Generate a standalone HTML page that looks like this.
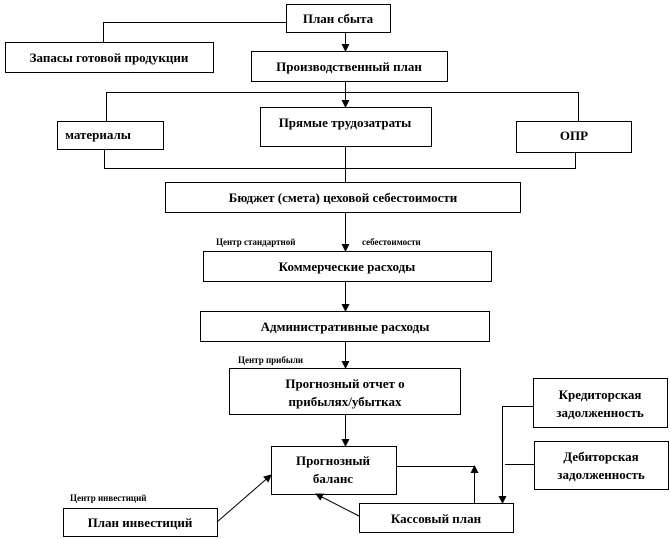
<!DOCTYPE html>
<html><head><meta charset="utf-8"><style>
html,body{margin:0;padding:0;background:#fff;}
svg{display:block;}
text{font-family:"Liberation Serif",serif;font-weight:bold;fill:#000;}
.t{font-size:13px;}
.s{font-size:9px;}
</style></head><body>
<svg width="670" height="539" viewBox="0 0 670 539" xmlns="http://www.w3.org/2000/svg">
<defs><marker id="a" markerWidth="8" markerHeight="8" refX="7" refY="4" orient="auto" markerUnits="userSpaceOnUse"><path d="M0,0 L8,4 L0,8 z" fill="#000"/></marker></defs>
<g fill="#fff" stroke="#000" stroke-width="1">
<rect x="286.5" y="4.5" width="104" height="28"/>
<rect x="5.5" y="42.5" width="208" height="30"/>
<rect x="251.5" y="51.5" width="196" height="30"/>
<rect x="57.5" y="121.5" width="106" height="28"/>
<rect x="260.5" y="107.5" width="171" height="39"/>
<rect x="516.5" y="121.5" width="115" height="31"/>
<rect x="165.5" y="182.5" width="355" height="30"/>
<rect x="203.5" y="251.5" width="288" height="30"/>
<rect x="200.5" y="311.5" width="289" height="30"/>
<rect x="229.5" y="368.5" width="231" height="46"/>
<rect x="271.5" y="446.5" width="125" height="48"/>
<rect x="533.5" y="378.5" width="134" height="49"/>
<rect x="534.5" y="441.5" width="134" height="48"/>
<rect x="359.5" y="503.5" width="154" height="29"/>
<rect x="63.5" y="508.5" width="154" height="28"/>
</g>
<g fill="none" stroke="#000" stroke-width="1">
<polyline points="286,22.5 103.5,22.5 103.5,42"/>
<line x1="345.5" y1="33" x2="345.5" y2="51" marker-end="url(#a)"/>
<line x1="345.5" y1="82" x2="345.5" y2="107" marker-end="url(#a)"/>
<polyline points="106.5,121 106.5,92.5 578.5,92.5 578.5,121"/>
<polyline points="104.5,150 104.5,168.5 575.5,168.5 575.5,153"/>
<line x1="345.5" y1="147" x2="345.5" y2="182"/>
<line x1="345.5" y1="213" x2="345.5" y2="251" marker-end="url(#a)"/>
<line x1="345.5" y1="282" x2="345.5" y2="311" marker-end="url(#a)"/>
<line x1="345.5" y1="342" x2="345.5" y2="368" marker-end="url(#a)"/>
<line x1="345.5" y1="415" x2="345.5" y2="446" marker-end="url(#a)"/>
<polyline points="533,406.5 502.5,406.5 502.5,503" marker-end="url(#a)"/>
<line x1="505" y1="464.5" x2="534" y2="464.5"/>
<line x1="397" y1="466.5" x2="474.5" y2="466.5"/>
<line x1="474.5" y1="503" x2="474.5" y2="466" marker-end="url(#a)"/>
<line x1="359" y1="516" x2="316" y2="494" marker-end="url(#a)"/>
<line x1="217" y1="522" x2="271" y2="475" marker-end="url(#a)"/>
</g>
<g class="t" text-anchor="middle">
<text x="338" y="23">План сбыта</text>
<text x="109" y="62">Запасы готовой продукции</text>
<text x="349" y="71">Производственный план</text>
<text x="98" y="139">материалы</text>
<text x="345" y="127">Прямые трудозатраты</text>
<text x="574" y="140">ОПР</text>
<text x="343" y="202">Бюджет (смета) цеховой себестоимости</text>
<text x="347" y="271">Коммерческие расходы</text>
<text x="345" y="331">Административные расходы</text>
<text x="345" y="388">Прогнозный отчет о</text>
<text x="345" y="406">прибылях/убытках</text>
<text x="333" y="465">Прогнозный</text>
<text x="333" y="483">баланс</text>
<text x="600" y="399">Кредиторская</text>
<text x="600" y="417">задолженность</text>
<text x="601" y="461">Дебиторская</text>
<text x="601" y="479">задолженность</text>
<text x="436" y="523">Кассовый план</text>
<text x="140" y="527">План инвестиций</text>
</g>
<g class="s">
<text x="216" y="245">Центр  стандартной</text>
<text x="362" y="245">себестоимости</text>
<text x="238" y="363">Центр  прибыли</text>
<text x="70" y="501">Центр  инвестиций</text>
</g>
</svg>
</body></html>
